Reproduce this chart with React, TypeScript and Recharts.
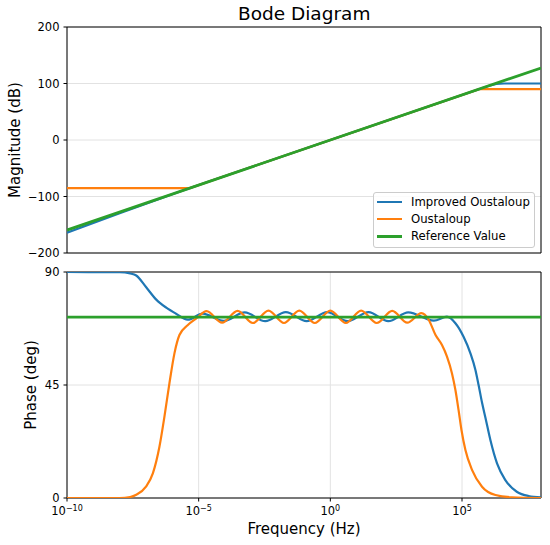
import React from 'react';
import { LineChart, Line, XAxis, YAxis, CartesianGrid, ReferenceArea, Legend, Label } from 'recharts';

// ---- tick definitions ----
const X_TICK_EXPONENTS = [-10, -5, 0, 5];
const MAG_TICKS = [-200, -100, 0, 100, 200];
const PHASE_TICKS = [0, 45, 90];
const SERIES_NAMES = ['Improved Oustaloup', 'Oustaloup', 'Reference Value'];
const COLORS = ['#1f77b4', '#ff7f0e', '#2ca02c'];

// ---- magnitude (dB) vs log10(frequency) ----
const MAG_IMPROVED_EXP = [-10, -9, -8, -7, -6, -5, 6.0, 6.3, 6.6, 8];
const MAG_IMPROVED = [-164, -147, -129.8, -112.6, -95.9, -79.7, 95.6, 99.3, 100, 100];
const MAG_OUSTALOUP_EXP = [-10, -5.33, 5.65, 8];
const MAG_OUSTALOUP = [-85, -85, 90, 90];
const MAG_REFERENCE_EXP = [-10, 0, 8];
const MAG_REFERENCE = [-159.4, 0, 127.5];

// ---- phase (deg) vs log10(frequency) ----
const PH_IMPROVED_EXP = [-10, -8, -7.6, -7.37, -7.0, -6.61, -6.23, -5.86, -5.42, -4.85, -4.05, -3.25, -2.47, -1.69, -0.9, -0.12, 0.66, 1.45, 2.2, 2.96, 3.93, 4.43, 4.75, 5.06, 5.32, 5.51, 5.63, 5.76, 5.89, 6.08, 6.33, 6.64, 7.08, 7.53, 8];
const PH_IMPROVED = [90, 89.9, 89.4, 88.6, 84.0, 79.0, 75.8, 73.4, 71.0, 73.4, 70.5, 73.9, 70.4, 74.0, 70.4, 74.0, 70.4, 74.0, 70.4, 73.9, 70.6, 72.2, 69.6, 64.2, 57.6, 51, 45, 38, 32, 23, 13.8, 7.2, 2.5, 0.8, 0.3];
const PH_OUSTALOUP_EXP = [-10, -8, -7.6, -7.37, -7.0, -6.74, -6.49, -6.3, -6.11, -5.92, -5.73, -5.42, -5.1, -4.7, -4.11, -3.52, -2.94, -2.35, -1.76, -1.18, -0.59, 0, 0.59, 1.17, 1.76, 2.35, 2.92, 3.46, 3.74, 3.99, 4.24, 4.43, 4.62, 4.75, 4.87, 4.98, 5.13, 5.38, 5.76, 6.27, 6.89, 8];
const PH_OUSTALOUP = [0, 0, 0.4, 1.3, 4.5, 9.8, 20.4, 32.4, 45.7, 57.6, 64.9, 68.8, 71.4, 74.4, 69.8, 74.5, 69.7, 74.6, 69.7, 74.6, 69.7, 74.6, 69.7, 74.6, 69.7, 74.5, 69.8, 73.6, 70.9, 65.0, 60.9, 56.3, 49.6, 43, 35, 27.1, 19.1, 11.2, 4.5, 1.2, 0.3, 0];
const PH_REFERENCE_EXP = [-10, 8];
const PH_REFERENCE = [72, 72];

const FONT = 'DejaVu Sans';
const X_DOMAIN: [number, number] = [1e-10, 1e8];
const X_TICKS = X_TICK_EXPONENTS.map((e) => Math.pow(10, e));

const pts = (exps: number[], vals: number[]) => exps.map((e, i) => ({ f: Math.pow(10, e), v: vals[i] }));

const minus = (v: number) => (v < 0 ? '\u2212' + Math.abs(v) : String(v));

const ExpTick = (props: any) => {
  const { x, y, payload } = props;
  const e = Math.round(Math.log10(payload.value));
  return (
    <text x={x} y={y + 13.5} textAnchor="middle" fill="#000" fontSize={11.5} fontFamily={FONT}>
      10
      <tspan dy={-4.5} fontSize={8}>
        {minus(e)}
      </tspan>
    </text>
  );
};

const LegendBox = () => (
  <div
    style={{
      boxSizing: 'border-box',
      width: 162,
      height: 56,
      border: '1px solid #cccccc',
      borderRadius: 3,
      background: 'rgba(255,255,255,0.85)',
      paddingTop: 0.5,
      fontFamily: FONT,
      fontSize: 11.7,
      color: '#000',
    }}
  >
    {SERIES_NAMES.map((n, i) => (
      <div key={n} style={{ display: 'flex', alignItems: 'center', height: 17.2, whiteSpace: 'nowrap' }}>
        <span
          style={{
            display: 'inline-block',
            width: 25,
            height: i === 2 ? 2.8 : 2.2,
            background: COLORS[i],
            marginLeft: 3,
            marginRight: 9.3,
          }}
        />
        <span>{n}</span>
      </div>
    ))}
  </div>
);

const axisTick = { fill: '#000', fontSize: 11.5, fontFamily: FONT };
const GRID = '#e2e2e2';
const LABEL_SIZE = 15;

export default function App() {
  const magSeries = [pts(MAG_IMPROVED_EXP, MAG_IMPROVED), pts(MAG_OUSTALOUP_EXP, MAG_OUSTALOUP), pts(MAG_REFERENCE_EXP, MAG_REFERENCE)];
  const phSeries = [pts(PH_IMPROVED_EXP, PH_IMPROVED), pts(PH_OUSTALOUP_EXP, PH_OUSTALOUP), pts(PH_REFERENCE_EXP, PH_REFERENCE)];
  return (
    <div style={{ position: 'absolute', left: 0, top: 0, width: 550, height: 545, background: '#fff', fontFamily: FONT }}>
      <div style={{ position: 'absolute', left: 0, top: 0 }}>
        <LineChart width={550} height={265} margin={{ top: 27, right: 9, bottom: 0, left: 0 }}>
          <CartesianGrid stroke={GRID} strokeWidth={1} />
          <XAxis
            dataKey="f"
            type="number"
            scale="log"
            domain={X_DOMAIN}
            ticks={X_TICKS}
            tick={false}
            tickSize={3.5}
            height={12}
            axisLine={false}
            tickLine={{ stroke: '#000' }}
            allowDataOverflow
          />
          <YAxis
            type="number"
            domain={[-200, 200]}
            ticks={MAG_TICKS}
            width={67}
            tickSize={3.5}
            tickMargin={4}
            tickFormatter={minus}
            tick={axisTick}
            axisLine={false}
            tickLine={{ stroke: '#000' }}
            allowDataOverflow
          >
            <Label
              value="Magnitude (dB)"
              angle={-90}
              position="insideLeft"
              offset={14.5}
              style={{ textAnchor: 'middle', fontSize: LABEL_SIZE, fill: '#000', fontFamily: FONT }}
            />
          </YAxis>
          {magSeries.map((d, i) => (
            <Line
              key={SERIES_NAMES[i]}
              data={d}
              dataKey="v"
              name={SERIES_NAMES[i]}
              type="linear"
              stroke={COLORS[i]}
              strokeWidth={i === 2 ? 2.8 : 2.2}
              dot={false}
              activeDot={false}
              isAnimationActive={false}
            />
          ))}
          <ReferenceArea x1={X_DOMAIN[0]} x2={X_DOMAIN[1]} y1={-200} y2={200} fill="none" fillOpacity={0} stroke="#000" strokeWidth={1} />
          <Legend
            layout="vertical"
            align="center"
            verticalAlign="middle"
            wrapperStyle={{ left: 372.7, top: 191.7, width: 162, height: 56 }}
            content={() => <LegendBox />}
          />
        </LineChart>
      </div>
      <div style={{ position: 'absolute', left: 0, top: 260 }}>
        <LineChart width={550} height={285} margin={{ top: 12, right: 9, bottom: 0, left: 0 }}>
          <CartesianGrid stroke={GRID} strokeWidth={1} />
          <XAxis
            dataKey="f"
            type="number"
            scale="log"
            domain={X_DOMAIN}
            ticks={X_TICKS}
            tick={<ExpTick />}
            tickSize={3.5}
            tickMargin={0}
            height={47}
            axisLine={false}
            tickLine={{ stroke: '#000' }}
            allowDataOverflow
          >
            <Label
              value="Frequency (Hz)"
              position="insideBottom"
              offset={11}
              style={{ textAnchor: 'middle', fontSize: LABEL_SIZE, fill: '#000', fontFamily: FONT }}
            />
          </XAxis>
          <YAxis
            type="number"
            domain={[0, 90]}
            ticks={PHASE_TICKS}
            width={67}
            tickSize={3.5}
            tickMargin={4}
            tick={axisTick}
            axisLine={false}
            tickLine={{ stroke: '#000' }}
            allowDataOverflow
          >
            <Label
              value="Phase (deg)"
              angle={-90}
              position="insideLeft"
              offset={31}
              style={{ textAnchor: 'middle', fontSize: LABEL_SIZE, fill: '#000', fontFamily: FONT }}
            />
          </YAxis>
          {phSeries.map((d, i) => (
            <Line
              key={SERIES_NAMES[i]}
              data={d}
              dataKey="v"
              name={SERIES_NAMES[i]}
              type={i === 2 ? 'linear' : 'monotone'}
              stroke={COLORS[i]}
              strokeWidth={i === 2 ? 2.8 : 2.2}
              dot={false}
              activeDot={false}
              isAnimationActive={false}
            />
          ))}
          <ReferenceArea x1={X_DOMAIN[0]} x2={X_DOMAIN[1]} y1={0} y2={90} fill="none" fillOpacity={0} stroke="#000" strokeWidth={1} />
        </LineChart>
      </div>
      <svg width={550} height={30} style={{ position: 'absolute', left: 0, top: 0, pointerEvents: 'none' }}>
        <text x={304.2} y={20} textAnchor="middle" fontSize={18.5} fontFamily={FONT} fill="#000">
          Bode Diagram
        </text>
      </svg>
    </div>
  );
}
